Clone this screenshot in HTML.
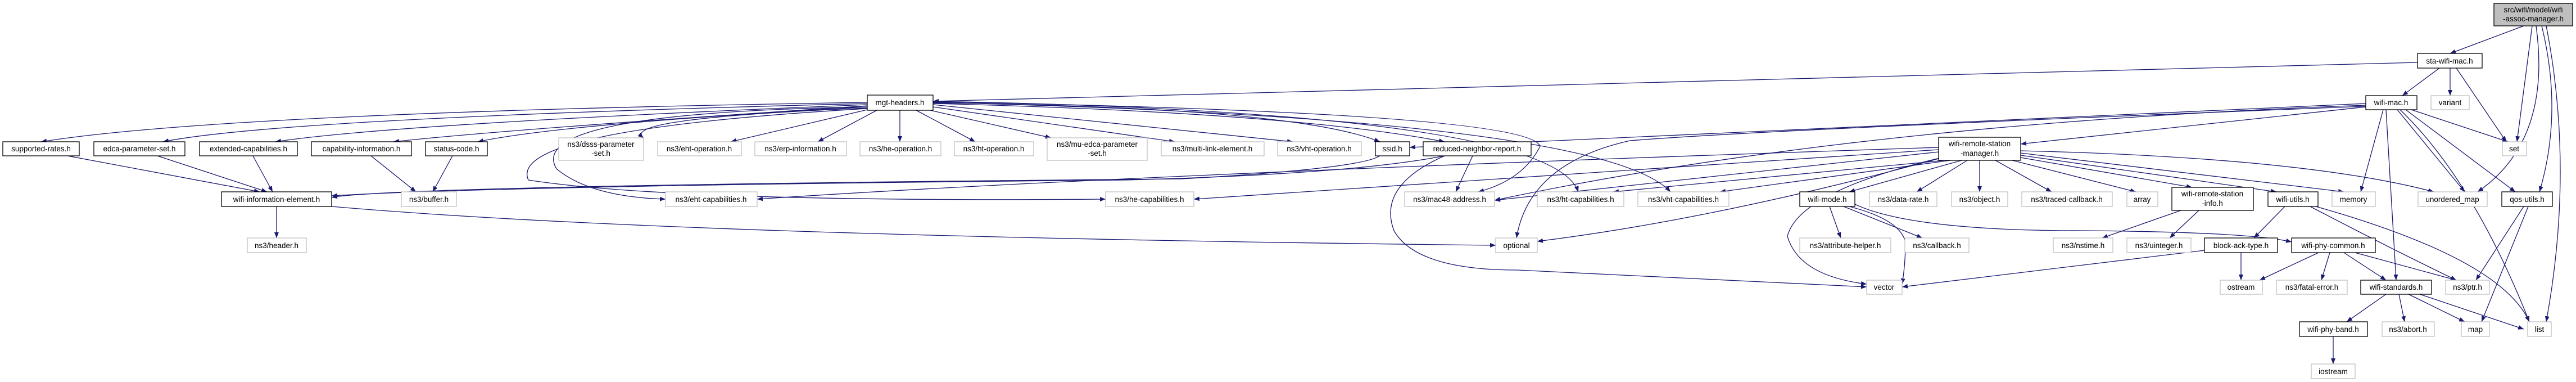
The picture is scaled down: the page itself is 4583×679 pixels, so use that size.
<!DOCTYPE html>
<html><head><meta charset="utf-8"><style>
html,body{margin:0;padding:0;background:#fff;}
svg{display:block;}
text{font-family:"Liberation Sans",sans-serif;font-size:13.5px;fill:#000;text-anchor:middle;}
.e{fill:none;stroke:#191970;stroke-width:1.3;marker-end:url(#a);}
.d{fill:#fff;stroke:#000;stroke-width:1.3;}
.x{fill:#fff;stroke:#bfbfbf;stroke-width:1.3;}
</style></head><body>
<svg width="4583" height="679" viewBox="0 0 4583 679" xmlns="http://www.w3.org/2000/svg">
<defs><marker id="a" markerUnits="userSpaceOnUse" markerWidth="11" markerHeight="8" refX="10" refY="4" orient="auto"><path d="M0,0 L10,4 L0,8 z" fill="#191970"/></marker></defs>
<g>
<path class="e" d="M4490,46 L4359,95"/>
<path class="e" d="M4505,46 L4478,252"/>
<path class="e" d="M4512,46 Q4540,250 4408,341"/>
<path class="e" d="M4522,46 Q4560,200 4518,341"/>
<path class="e" d="M4530,46 Q4580,300 4530,572"/>
<path class="e" d="M4340,121 L4274,170"/>
<path class="e" d="M4359,121 L4359,170"/>
<path class="e" d="M4370,121 L4459,252"/>
<path class="e" d="M4301,111 L1660,180"/>
<path class="e" d="M4290,195 L4462,252"/>
<path class="e" d="M4209,190 L3595,256"/>
<path class="e" d="M4209,184 L2508,262"/>
<path class="e" d="M4209,187 Q3300,220 2659,356"/>
<path class="e" d="M4245,195 L4263,498"/>
<path class="e" d="M4270,195 Q4400,320 4500,572"/>
<path class="e" d="M4265,195 L4385,341"/>
<path class="e" d="M4240,195 L4200,341"/>
<path class="e" d="M4280,195 L4475,341"/>
<path class="e" d="M4209,189 Q3150,230 2900,250 Q2720,290 2698,423"/>
<path class="e" d="M1543,182 Q400,200 73,252"/>
<path class="e" d="M1543,184 Q500,210 290,252"/>
<path class="e" d="M1543,186 Q700,220 490,252"/>
<path class="e" d="M1543,188 Q900,230 700,252"/>
<path class="e" d="M1543,190 Q1000,220 850,252"/>
<path class="e" d="M1543,192 Q1100,210 1145,245"/>
<path class="e" d="M1543,195 L1300,252"/>
<path class="e" d="M1560,196 L1455,252"/>
<path class="e" d="M1601,196 L1601,252"/>
<path class="e" d="M1630,196 L1735,252"/>
<path class="e" d="M1655,196 L1870,245"/>
<path class="e" d="M1660,190 L2090,252"/>
<path class="e" d="M1660,186 L2300,252"/>
<path class="e" d="M1660,183 Q2300,190 2455,252"/>
<path class="e" d="M1660,184 Q2300,200 2570,252"/>
<path class="e" d="M1543,190 Q930,200 990,300 Q1050,350 1184,354"/>
<path class="e" d="M1543,193 Q900,230 940,320 Q1200,360 1967,354"/>
<path class="e" d="M1660,181 Q2720,200 2740,260 Q2710,320 2630,341"/>
<path class="e" d="M1660,180 Q2760,200 2808,341"/>
<path class="e" d="M1660,182 Q2850,210 2972,341"/>
<path class="e" d="M120,277 L462,341"/>
<path class="e" d="M280,277 L475,341"/>
<path class="e" d="M450,277 L485,341"/>
<path class="e" d="M660,277 L740,341"/>
<path class="e" d="M805,277 L770,341"/>
<path class="e" d="M2455,277 Q2420,300 2100,318 Q700,330 590,351"/>
<path class="e" d="M2570,277 Q2400,310 2000,320 Q900,330 590,348"/>
<path class="e" d="M2620,277 L2590,341"/>
<path class="e" d="M2570,277 Q2450,330 2480,410 Q2520,480 2700,480 Q3100,500 3321,510"/>
<path class="e" d="M492,367 L492,423"/>
<path class="e" d="M590,367 Q1200,420 2661,436"/>
<path class="e" d="M3449,262 Q2000,310 1347,354"/>
<path class="e" d="M3449,266 Q2600,320 2124,354"/>
<path class="e" d="M3449,270 L2659,356"/>
<path class="e" d="M3460,285 L2870,341"/>
<path class="e" d="M3470,285 L3060,341"/>
<path class="e" d="M3490,285 L3290,341"/>
<path class="e" d="M3500,285 L3410,341"/>
<path class="e" d="M3522,285 L3522,341"/>
<path class="e" d="M3550,285 L3650,341"/>
<path class="e" d="M3580,285 L3800,341"/>
<path class="e" d="M3595,280 L3900,333"/>
<path class="e" d="M3595,276 L4050,341"/>
<path class="e" d="M3595,272 L4170,341"/>
<path class="e" d="M3595,268 Q4100,280 4330,341"/>
<path class="e" d="M3449,282 Q3050,390 2735,429"/>
<path class="e" d="M3455,280 Q3200,340 3180,420 Q3200,490 3321,505"/>
<path class="e" d="M3255,367 L3275,423"/>
<path class="e" d="M3280,367 L3420,423"/>
<path class="e" d="M3290,367 Q3380,390 3390,430 Q3390,470 3384,505"/>
<path class="e" d="M3300,363 Q3400,410 3700,410 Q4000,412 4077,430"/>
<path class="e" d="M3880,374 L3740,423"/>
<path class="e" d="M3912,374 L3860,423"/>
<path class="e" d="M4065,367 L4010,423"/>
<path class="e" d="M4110,367 Q4250,440 4370,498"/>
<path class="e" d="M4120,367 Q4450,460 4500,572"/>
<path class="e" d="M3922,445 L3384,510"/>
<path class="e" d="M3987,449 L3987,498"/>
<path class="e" d="M4125,449 L4020,498"/>
<path class="e" d="M4145,449 L4130,498"/>
<path class="e" d="M4170,449 L4245,498"/>
<path class="e" d="M4190,449 L4370,498"/>
<path class="e" d="M4245,523 L4175,572"/>
<path class="e" d="M4268,523 L4278,572"/>
<path class="e" d="M4285,523 L4385,572"/>
<path class="e" d="M4305,523 L4490,585"/>
<path class="e" d="M4151,598 L4151,647"/>
<path class="e" d="M4490,367 L4405,498"/>
<path class="e" d="M4498,367 L4415,572"/>
</g>
<g>
<rect x="4437" y="6" width="140" height="40" fill="#bfbfbf" stroke="#000" stroke-width="1.3"/>
<text x="4507" y="22">src/wifi/model/wifi</text><text x="4507" y="38">-assoc-manager.h</text>
<rect class="d" x="4301" y="95" width="115" height="26"/><text x="4358" y="113">sta-wifi-mac.h</text>
<rect class="d" x="1543" y="169" width="117" height="27"/><text x="1601" y="187">mgt-headers.h</text>
<rect class="d" x="4209" y="170" width="91" height="25"/><text x="4254" y="187">wifi-mac.h</text>
<rect class="x" x="4325" y="170" width="68" height="25"/><text x="4359" y="187">variant</text>
<rect class="d" x="5" y="252" width="136" height="25"/><text x="73" y="269">supported-rates.h</text>
<rect class="d" x="167" y="252" width="162" height="25"/><text x="248" y="269">edca-parameter-set.h</text>
<rect class="d" x="355" y="252" width="174" height="25"/><text x="442" y="269">extended-capabilities.h</text>
<rect class="d" x="554" y="252" width="178" height="25"/><text x="643" y="269">capability-information.h</text>
<rect class="d" x="757" y="252" width="110" height="25"/><text x="812" y="269">status-code.h</text>
<rect class="x" x="994" y="245" width="151" height="40"/><text x="1069" y="261">ns3/dsss-parameter</text><text x="1069" y="277">-set.h</text>
<rect class="x" x="1170" y="252" width="149" height="25"/><text x="1244" y="269">ns3/eht-operation.h</text>
<rect class="x" x="1343" y="252" width="163" height="25"/><text x="1424" y="269">ns3/erp-information.h</text>
<rect class="x" x="1530" y="252" width="144" height="25"/><text x="1602" y="269">ns3/he-operation.h</text>
<rect class="x" x="1698" y="252" width="141" height="25"/><text x="1768" y="269">ns3/ht-operation.h</text>
<rect class="x" x="1863" y="245" width="178" height="40"/><text x="1952" y="261">ns3/mu-edca-parameter</text><text x="1952" y="277">-set.h</text>
<rect class="x" x="2066" y="252" width="183" height="25"/><text x="2157" y="269">ns3/multi-link-element.h</text>
<rect class="x" x="2273" y="252" width="149" height="25"/><text x="2347" y="269">ns3/vht-operation.h</text>
<rect class="d" x="2447" y="252" width="61" height="25"/><text x="2477" y="269">ssid.h</text>
<rect class="d" x="2532" y="252" width="192" height="25"/><text x="2628" y="269">reduced-neighbor-report.h</text>
<rect class="d" x="3449" y="244" width="146" height="41"/><text x="3522" y="260">wifi-remote-station</text><text x="3522" y="277">-manager.h</text>
<rect class="x" x="4452" y="252" width="43" height="25"/><text x="4473" y="269">set</text>
<rect class="d" x="394" y="341" width="196" height="26"/><text x="492" y="359">wifi-information-element.h</text>
<rect class="x" x="714" y="341" width="98" height="26"/><text x="763" y="359">ns3/buffer.h</text>
<rect class="x" x="1184" y="341" width="163" height="26"/><text x="1265" y="359">ns3/eht-capabilities.h</text>
<rect class="x" x="1967" y="341" width="157" height="26"/><text x="2045" y="359">ns3/he-capabilities.h</text>
<rect class="x" x="2499" y="341" width="160" height="26"/><text x="2579" y="359">ns3/mac48-address.h</text>
<rect class="x" x="2735" y="341" width="154" height="26"/><text x="2812" y="359">ns3/ht-capabilities.h</text>
<rect class="x" x="2914" y="341" width="162" height="26"/><text x="2995" y="359">ns3/vht-capabilities.h</text>
<rect class="d" x="3202" y="341" width="98" height="26"/><text x="3251" y="359">wifi-mode.h</text>
<rect class="x" x="3326" y="341" width="120" height="26"/><text x="3386" y="359">ns3/data-rate.h</text>
<rect class="x" x="3472" y="341" width="100" height="26"/><text x="3522" y="359">ns3/object.h</text>
<rect class="x" x="3597" y="341" width="161" height="26"/><text x="3677" y="359">ns3/traced-callback.h</text>
<rect class="x" x="3784" y="341" width="55" height="26"/><text x="3811" y="359">array</text>
<rect class="d" x="3864" y="333" width="145" height="41"/><text x="3936" y="349">wifi-remote-station</text><text x="3936" y="366">-info.h</text>
<rect class="d" x="4035" y="341" width="89" height="26"/><text x="4079" y="359">wifi-utils.h</text>
<rect class="x" x="4149" y="341" width="77" height="26"/><text x="4187" y="359">memory</text>
<rect class="x" x="4302" y="341" width="123" height="26"/><text x="4363" y="359">unordered_map</text>
<rect class="d" x="4451" y="341" width="90" height="26"/><text x="4496" y="359">qos-utils.h</text>
<rect class="x" x="440" y="423" width="105" height="26"/><text x="492" y="441">ns3/header.h</text>
<rect class="x" x="2661" y="423" width="74" height="26"/><text x="2698" y="441">optional</text>
<rect class="x" x="3202" y="423" width="162" height="26"/><text x="3283" y="441">ns3/attribute-helper.h</text>
<rect class="x" x="3389" y="423" width="114" height="26"/><text x="3446" y="441">ns3/callback.h</text>
<rect class="x" x="3653" y="423" width="106" height="26"/><text x="3706" y="441">ns3/nstime.h</text>
<rect class="x" x="3784" y="423" width="114" height="26"/><text x="3841" y="441">ns3/uinteger.h</text>
<rect class="d" x="3922" y="423" width="130" height="26"/><text x="3987" y="441">block-ack-type.h</text>
<rect class="d" x="4077" y="423" width="149" height="26"/><text x="4151" y="441">wifi-phy-common.h</text>
<rect class="x" x="3321" y="498" width="63" height="25"/><text x="3352" y="515">vector</text>
<rect class="x" x="3950" y="498" width="75" height="25"/><text x="3987" y="515">ostream</text>
<rect class="x" x="4050" y="498" width="126" height="25"/><text x="4113" y="515">ns3/fatal-error.h</text>
<rect class="d" x="4200" y="498" width="126" height="25"/><text x="4263" y="515">wifi-standards.h</text>
<rect class="x" x="4351" y="498" width="78" height="25"/><text x="4390" y="515">ns3/ptr.h</text>
<rect class="d" x="4091" y="572" width="121" height="26"/><text x="4151" y="590">wifi-phy-band.h</text>
<rect class="x" x="4238" y="572" width="93" height="26"/><text x="4284" y="590">ns3/abort.h</text>
<rect class="x" x="4379" y="572" width="50" height="26"/><text x="4404" y="590">map</text>
<rect class="x" x="4497" y="572" width="42" height="26"/><text x="4518" y="590">list</text>
<rect class="x" x="4112" y="647" width="78" height="26"/><text x="4151" y="665">iostream</text>
</g>
</svg>
</body></html>
